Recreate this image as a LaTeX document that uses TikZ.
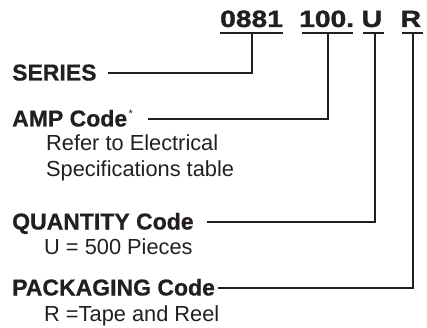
\documentclass[tikz,border=0pt]{standalone}
\usepackage{fontspec}
\setmainfont{Liberation Sans}[BoldFeatures={FakeBold=0.6}]
\newfontfamily\numfont{Liberation Sans}[BoldFeatures={FakeBold=1.3}]
\definecolor{ink}{HTML}{231F20}
\newcommand{\widenum}[1]{\scalebox{1.2}[1]{#1}}
\begin{document}
\begin{tikzpicture}[x=1pt,y=-1pt,
  head/.style={anchor=base west,inner sep=0pt,text=ink,font=\fontsize{23}{27}\selectfont\bfseries},
  sub/.style={anchor=base west,inner sep=0pt,text=ink,font=\fontsize{21.8}{25}\selectfont},
  num/.style={anchor=base west,inner sep=0pt,text=ink,font=\numfont\fontsize{23.5}{27}\selectfont\bfseries},
  uline/.style={draw=ink,line width=2pt},
  conn/.style={draw=ink,line width=1.1pt}]
\useasboundingbox (0,0) rectangle (427,328);
% part number
\node[num] (n1) at (220,27) {\widenum{0881}};
\node[num] (n2) at (299,27) {\widenum{100.}};
\node[num] (n3) at (361.5,27) {\widenum{U}};
\node[num] (n4) at (400.5,27) {\widenum{R}};
\coordinate (u1a) at (220,33); \coordinate (u1b) at (283,33);
\coordinate (u2a) at (302,33); \coordinate (u2b) at (353,33);
\coordinate (u3a) at (363,33); \coordinate (u3b) at (384,33);
\coordinate (u4a) at (402,33); \coordinate (u4b) at (423,33);
\draw[uline] (u1a) -- (u1b);
\draw[uline] (u2a) -- (u2b);
\draw[uline] (u3a) -- (u3b);
\draw[uline] (u4a) -- (u4b);
\coordinate (t1) at (252,33);
\coordinate (t2) at (328,33);
\coordinate (t3) at (375,33);
\coordinate (t4) at (413,33);
% labels
\node[head] (series) at (12,80.5) {SERIES};
\node[head] (amp) at (12,126.5) {AMP Code\hspace{1.5pt}\raisebox{9pt}{\fontsize{11}{11}\selectfont\mdseries *}};
\node[sub] (ref1) at (46,151) {Refer to Electrical};
\node[sub] (ref2) at (46,176.5) {Specifications table};
\node[head] (qty) at (12,229.5) {QUANTITY Code};
\node[sub] (qsub) at (44,254.5) {U = 500 Pieces};
\node[head] (pkg) at (12,295.5) {PACKAGING Code};
\node[sub] (psub) at (44,321.5) {R =Tape and Reel};
% connector starts
\coordinate (e1) at (108,73);
\coordinate (e2) at (148,119);
\coordinate (e3) at (207,222);
\coordinate (e4) at (218,288);
\draw[conn] (t1) |- (e1);
\draw[conn] (t2) |- (e2);
\draw[conn] (t3) |- (e3);
\draw[conn] (t4) |- (e4);
\end{tikzpicture}
\end{document}
